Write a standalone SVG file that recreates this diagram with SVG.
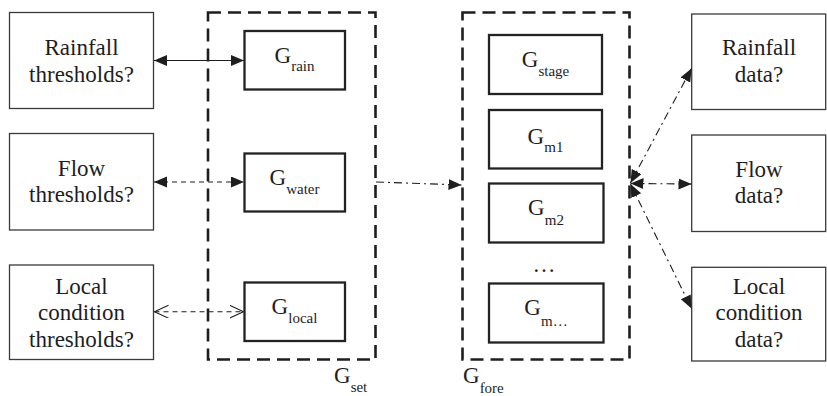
<svg xmlns="http://www.w3.org/2000/svg" width="827" height="396" viewBox="0 0 827 396" font-family="Liberation Serif, Tinos, Times New Roman, DejaVu Serif, serif">
  <style>
    text { font-family: 'Liberation Serif', Tinos, 'Times New Roman', 'DejaVu Serif', serif; font-size: 23px; fill: #1e1e1e; }
    .txt { text-anchor: middle; }
    .sub { font-size: 15px; }
    .outer { fill: #fff; stroke: #3a3a3a; stroke-width: 1.3; }
    .inner { fill: #fff; stroke: #222; stroke-width: 2.3; }
    .group { fill: none; stroke: #1e1e1e; stroke-width: 2.6; stroke-dasharray: 13 7; }
    .solid { fill: none; stroke: #1e1e1e; stroke-width: 1.1; }
    .dash { fill: none; stroke: #1e1e1e; stroke-width: 1.1; stroke-dasharray: 5 4; }
    .dashdot { fill: none; stroke: #1e1e1e; stroke-width: 1.1; stroke-dasharray: 8 4 2 4; }
  </style>
  <defs>
    <marker id="arrowFilled" markerUnits="userSpaceOnUse" markerWidth="14" markerHeight="12" refX="13" refY="5.5" orient="auto-start-reverse">
      <path d="M0,0 L13,5.5 L0,11 Z" fill="#1e1e1e"/>
    </marker>
    <marker id="arrowOpen" markerUnits="userSpaceOnUse" markerWidth="16" markerHeight="14" refX="14" refY="6.5" orient="auto-start-reverse">
      <path d="M0,0 L14,6.5 L0,13" fill="none" stroke="#1e1e1e" stroke-width="1.1"/>
    </marker>
  </defs>

  <!-- left column: threshold questions -->
  <g id="rainfall-thresholds">
    <rect class="outer" x="9.5" y="12.5" width="144" height="96"/>
    <text class="txt" x="81.5" y="55">Rainfall</text>
    <text class="txt" x="81.5" y="82">thresholds?</text>
  </g>
  <g id="flow-thresholds">
    <rect class="outer" x="9.5" y="133.5" width="144" height="96.5"/>
    <text class="txt" x="81.5" y="176">Flow</text>
    <text class="txt" x="81.5" y="202">thresholds?</text>
  </g>
  <g id="local-thresholds">
    <rect class="outer" x="9.5" y="265" width="144" height="94.5"/>
    <text class="txt" x="81.5" y="294">Local</text>
    <text class="txt" x="81.5" y="320">condition</text>
    <text class="txt" x="81.5" y="346.5">thresholds?</text>
  </g>

  <!-- G_set container -->
  <g id="g-set">
    <rect class="group" x="208" y="12.5" width="167.5" height="347"/>
    <text x="334" y="383">G<tspan class="sub" dy="9">set</tspan></text>
  </g>
  <g id="g-rain">
    <rect class="inner" x="244.5" y="31" width="100.5" height="58.5"/>
    <text class="txt" x="294.5" y="63">G<tspan class="sub" dy="8">rain</tspan></text>
  </g>
  <g id="g-water">
    <rect class="inner" x="244.5" y="153.5" width="100.5" height="58"/>
    <text class="txt" x="294.5" y="185">G<tspan class="sub" dy="9">water</tspan></text>
  </g>
  <g id="g-local">
    <rect class="inner" x="244.5" y="282.5" width="100.5" height="58.5"/>
    <text class="txt" x="294.5" y="313.5">G<tspan class="sub" dy="9">local</tspan></text>
  </g>

  <!-- G_fore container -->
  <g id="g-fore">
    <rect class="group" x="462.5" y="12.5" width="167" height="347"/>
    <text x="463" y="383">G<tspan class="sub" dy="10">fore</tspan></text>
  </g>
  <g id="g-stage">
    <rect class="inner" x="489" y="35" width="113" height="59"/>
    <text class="txt" x="545.5" y="66.5">G<tspan class="sub" dy="9">stage</tspan></text>
  </g>
  <g id="g-m1">
    <rect class="inner" x="489" y="110" width="113" height="58.5"/>
    <text class="txt" x="545.5" y="143.5">G<tspan class="sub" dy="8.5">m1</tspan></text>
  </g>
  <g id="g-m2">
    <rect class="inner" x="489" y="183.5" width="114.5" height="59"/>
    <text class="txt" x="546" y="215">G<tspan class="sub" dy="10">m2</tspan></text>
  </g>
  <g id="g-ellipsis">
    <text class="txt" x="544" y="272">…</text>
  </g>
  <g id="g-mn">
    <rect class="inner" x="489" y="283.5" width="114.5" height="59"/>
    <text class="txt" x="546" y="314.5">G<tspan class="sub" dy="11">m…</tspan></text>
  </g>

  <!-- right column: data questions -->
  <g id="rainfall-data">
    <rect class="outer" x="691.7" y="14" width="134" height="95.5"/>
    <text class="txt" x="759" y="55">Rainfall</text>
    <text class="txt" x="759" y="82">data?</text>
  </g>
  <g id="flow-data">
    <rect class="outer" x="691.7" y="135" width="134" height="96.5"/>
    <text class="txt" x="759" y="177">Flow</text>
    <text class="txt" x="759" y="203">data?</text>
  </g>
  <g id="local-data">
    <rect class="outer" x="691.7" y="267.3" width="134" height="93.7"/>
    <text class="txt" x="759" y="293.5">Local</text>
    <text class="txt" x="759" y="320">condition</text>
    <text class="txt" x="759" y="346.5">data?</text>
  </g>

  <!-- connectors -->
  <g id="connectors">
    <line class="solid" x1="154" y1="60.5" x2="244" y2="60.5" marker-start="url(#arrowFilled)" marker-end="url(#arrowFilled)"/>
    <line class="dash" x1="154" y1="182" x2="244" y2="182" marker-start="url(#arrowFilled)" marker-end="url(#arrowFilled)"/>
    <line class="dash" x1="154.5" y1="311.7" x2="243.5" y2="311.7" marker-start="url(#arrowOpen)" marker-end="url(#arrowOpen)"/>
    <line class="dashdot" x1="376" y1="182" x2="461.5" y2="185" marker-end="url(#arrowFilled)"/>
    <line class="dashdot" x1="630.5" y1="183" x2="691.5" y2="68.5" marker-start="url(#arrowFilled)" marker-end="url(#arrowFilled)"/>
    <line class="dashdot" x1="630.5" y1="183.5" x2="691.5" y2="184" marker-start="url(#arrowFilled)" marker-end="url(#arrowFilled)"/>
    <line class="dashdot" x1="630.5" y1="184" x2="691.5" y2="308.5" marker-start="url(#arrowFilled)" marker-end="url(#arrowFilled)"/>
  </g>
</svg>
